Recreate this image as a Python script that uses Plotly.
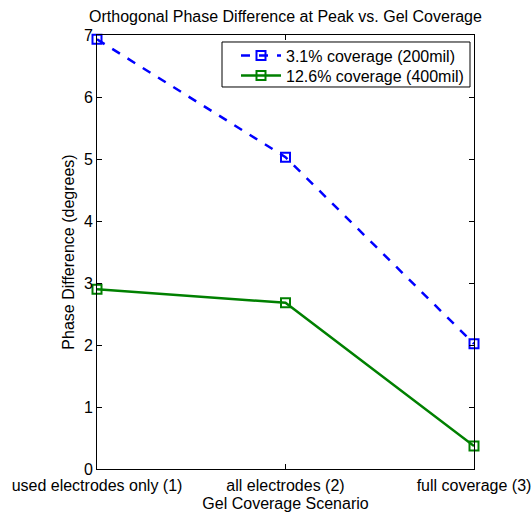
import plotly.graph_objects as go

# Gel coverage scenarios (x positions 1..3)
scenario_pos = [1, 2, 3]
scenario_labels = ["used electrodes only (1)", "all electrodes (2)", "full coverage (3)"]

# Orthogonal phase difference at peak (degrees)
phase_31 = [6.93, 5.03, 2.02]
phase_126 = [2.90, 2.68, 0.37]

font_family = "Liberation Sans, Arial, Helvetica, sans-serif"

fig = go.Figure()
fig.add_trace(go.Scatter(
    x=scenario_pos, y=phase_31, mode="lines+markers",
    name="3.1% coverage (200mil)", legend="legend",
    line=dict(color="#0000ff", width=2.5, dash="dash"),
    marker=dict(symbol="square-open", size=9, color="#0000ff", line=dict(width=2)),
    cliponaxis=False,
))
fig.add_trace(go.Scatter(
    x=scenario_pos, y=phase_126, mode="lines+markers",
    name="12.6% coverage (400mil)", legend="legend2",
    line=dict(color="#008000", width=2.5),
    marker=dict(symbol="square-open", size=9, color="#008000", line=dict(width=2)),
    cliponaxis=False,
))

# one entry per legend so the rows can sit close together inside a shared frame
legend_common = dict(xanchor="left", yanchor="middle", bgcolor="rgba(0,0,0,0)",
                     borderwidth=0, font=dict(size=16), itemwidth=40)

fig.update_layout(
    width=531, height=512,
    margin=dict(l=97, r=57, t=35, b=43),
    paper_bgcolor="white", plot_bgcolor="white",
    font=dict(family=font_family, size=16, color="black"),
    title=dict(text="Orthogonal Phase Difference at Peak vs. Gel Coverage",
               x=0.5, xref="paper", y=0.967, yanchor="middle",
               font=dict(size=16)),
    showlegend=True,
    legend=dict(x=0.3687, y=0.9527, **legend_common),
    legend2=dict(x=0.3687, y=0.9067, **legend_common),
    shapes=[dict(type="rect", xref="paper", yref="paper",
                 x0=0.3316, x1=0.9894, y0=0.8802, y1=0.9839,
                 line=dict(color="black", width=1), fillcolor="white", layer="above")],
)
fig.update_xaxes(
    range=[1, 3], tickvals=scenario_pos, ticktext=scenario_labels,
    showgrid=False, zeroline=False, showline=True, linecolor="black", linewidth=1,
    mirror="ticks", ticks="inside", ticklen=5, tickcolor="black",
    tickfont=dict(size=16), ticklabeloverflow="allow", ticklabelstandoff=2,
    automargin=False,
    title=dict(text="Gel Coverage Scenario", standoff=5, font=dict(size=16)),
)
fig.update_yaxes(
    range=[0, 7], tickvals=[0, 1, 2, 3, 4, 5, 6, 7],
    showgrid=False, zeroline=False, showline=True, linecolor="black", linewidth=1,
    mirror="ticks", ticks="inside", ticklen=5, tickcolor="black",
    tickfont=dict(size=16), automargin=False,
    title=dict(text="Phase Difference (degrees)", standoff=5, font=dict(size=16)),
)

fig.write_html("out.html")
